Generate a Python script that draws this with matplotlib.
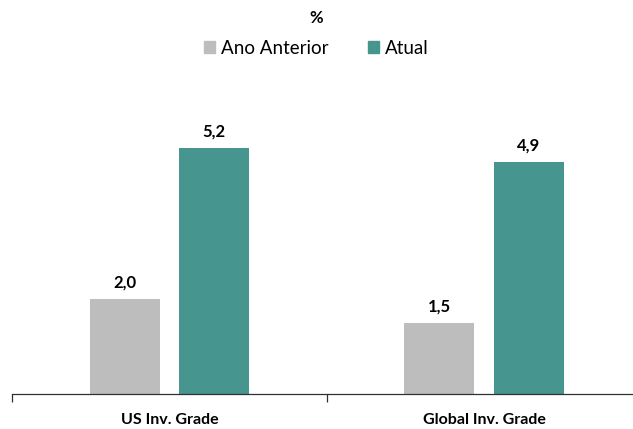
import numpy as np
import matplotlib.pyplot as plt
from matplotlib.patches import Patch

plt.rcParams['font.family'] = ['Lato', 'DejaVu Sans']

categories = ['US Inv. Grade', 'Global Inv. Grade']
series_names = ['Ano Anterior', 'Atual']
ano_anterior = [2.0, 1.5]
atual = [5.2, 4.9]
colors = ['#BDBDBD', '#47958F']

fig = plt.figure(figsize=(6.33, 4.29), dpi=100)
ax = fig.add_axes([12 / 633, 35 / 429, 629.5 / 633, 284 / 429])

x = np.arange(len(categories))
width = 0.222
offset = 0.142

for vals, off, col in [(ano_anterior, -offset, colors[0]), (atual, offset, colors[1])]:
    bars = ax.bar(x + off, vals, width=width, color=col)
    for b, v in zip(bars, vals):
        ax.annotate(f'{v:.1f}'.replace('.', ','),
                    (b.get_x() + b.get_width() / 2, v),
                    xytext=(0, 6), textcoords='offset points',
                    ha='center', va='bottom', fontsize=12, fontweight='bold')

ax.set_xlim(-0.5, 1.5)
ax.set_ylim(0, 6)
ax.set_yticks([])
for side in ['top', 'right', 'left']:
    ax.spines[side].set_visible(False)
ax.spines['bottom'].set_color('#303030')
ax.spines['bottom'].set_linewidth(0.9)

ax.set_xticks(x)
ax.set_xticklabels(categories, fontsize=11.5, fontweight='bold')
ax.tick_params(axis='x', which='major', length=0, pad=14)
ax.set_xticks([-0.5, 0.5, 1.5], minor=True)
ax.tick_params(axis='x', which='minor', length=5.5, width=0.9, color='#303030')

fig.text(0.5, 1 - 18 / 429, '%', ha='center', va='center', fontsize=12, fontweight='bold')
handles = [Patch(color=c) for c in colors]
fig.legend(handles, series_names, loc='center', bbox_to_anchor=(0.5, 1 - 48 / 429),
           ncol=2, frameon=False, fontsize=13.5, handlelength=0.6, handleheight=0.6,
           handletextpad=0.32, columnspacing=2.1)

fig.savefig('out.png', dpi=100)
